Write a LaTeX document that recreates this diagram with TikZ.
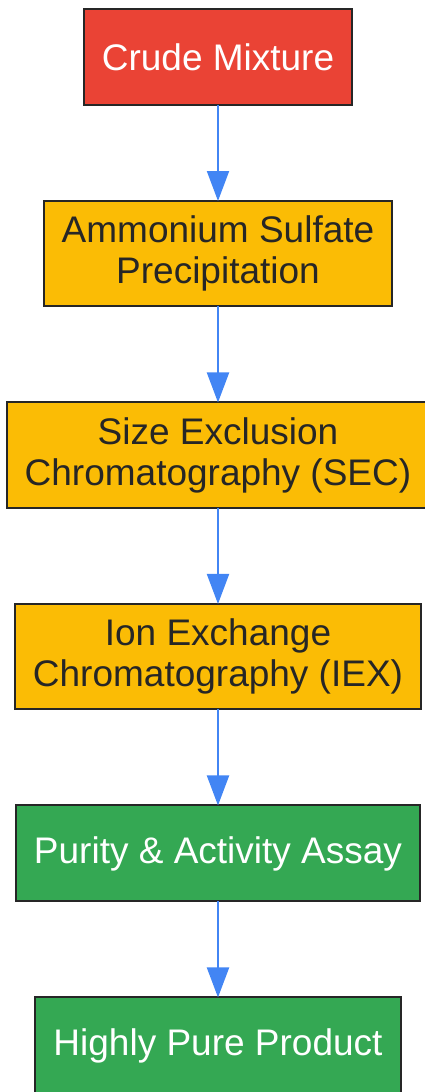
\documentclass[tikz,border=0pt]{standalone}
\usepackage{fontspec}
\setmainfont{Liberation Sans}
\usetikzlibrary{positioning, arrows.meta}
\definecolor{stepred}{HTML}{EA4335}
\definecolor{stepyellow}{HTML}{FBBC05}
\definecolor{stepgreen}{HTML}{34A853}
\definecolor{flowblue}{HTML}{4285F4}
\definecolor{edgegray}{HTML}{262626}
\begin{document}
\begin{tikzpicture}[node distance=96pt, font=\fontsize{37pt}{41pt}\selectfont,
    box/.style={draw=edgegray, line width=2pt, align=center, minimum height=96pt, inner xsep=18pt, inner ysep=15pt, outer sep=0pt},
    redbox/.style={box, fill=stepred, text=white},
    yellowbox/.style={box, fill=stepyellow, text=black!85},
    greenbox/.style={box, fill=stepgreen, text=white},
    flow/.style={draw=flowblue, line width=2pt, -{Triangle[length=30pt, width=22pt]}}]
        \useasboundingbox (0pt, 0pt) rectangle (425pt, -1092pt);
        \node[redbox] (crude) at (218pt, -57pt) {Crude Mixture};
        \node[yellowbox, below=of crude] (ammonium) {Ammonium Sulfate\\Precipitation};
        \node[yellowbox, below=of ammonium] (sec) {Size Exclusion\\Chromatography (SEC)};
        \node[yellowbox, below=of sec] (iex) {Ion Exchange\\Chromatography (IEX)};
        \node[greenbox, below=of iex] (assay) {Purity \& Activity Assay};
        \node[greenbox, below=of assay] (product) {Highly Pure Product};
        % arrows between the steps
        \draw[flow] (crude) -- (ammonium);
        \draw[flow] (ammonium) -- (sec);
        \draw[flow] (sec) -- (iex);
        \draw[flow] (iex) -- (assay);
        \draw[flow] (assay) -- (product);
    \end{tikzpicture}
\end{document}
